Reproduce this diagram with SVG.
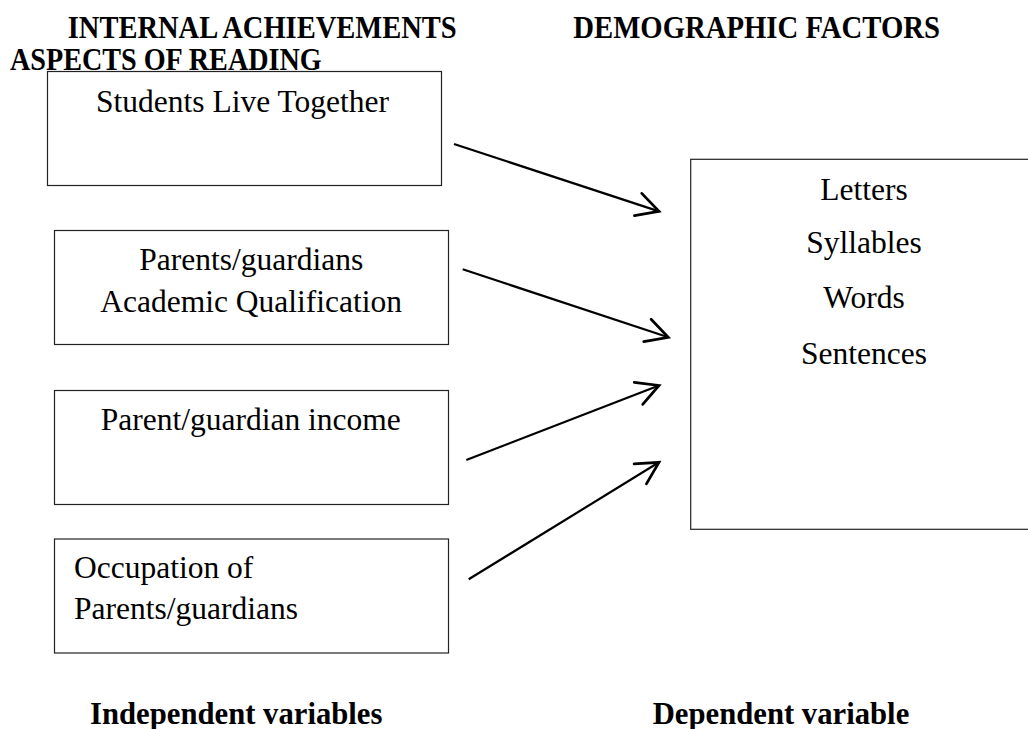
<svg xmlns="http://www.w3.org/2000/svg" width="1028" height="729" viewBox="0 0 1028 729">
<style>
  .box { fill: #ffffff; stroke: #222222; stroke-width: 1.2; }
  .t { font-family: "Liberation Serif", "Times New Roman", serif; font-size: 31.5px; fill: #000000; }
  .c { text-anchor: middle; }
  .h { font-family: "Liberation Serif", "Times New Roman", serif; font-size: 31px; font-weight: bold; fill: #000000; }
  .hb { font-family: "Liberation Serif", "Times New Roman", serif; font-size: 30.7px; font-weight: bold; fill: #000000; }
  .conn { stroke: #000000; stroke-width: 2.2; fill: none; marker-end: url(#arrow); }
</style>
<defs>
  <marker id="arrow" markerUnits="userSpaceOnUse" markerWidth="30" markerHeight="30" refX="0" refY="0" viewBox="-22 -12 24 24" orient="auto" overflow="visible">
    <path d="M -17.6 -9.4 L 0 0 L -17.6 9.4" fill="none" stroke="#000000" stroke-width="2.2" stroke-linecap="round" stroke-linejoin="miter"/>
  </marker>
</defs>

<g id="headings">
  <text class="h" x="67.7" y="37.7" textLength="389" lengthAdjust="spacingAndGlyphs">INTERNAL ACHIEVEMENTS</text>
  <text class="h" x="10" y="69.5" textLength="311.7" lengthAdjust="spacingAndGlyphs">ASPECTS OF READING</text>
  <text class="h" x="573.3" y="37.7" textLength="366.7" lengthAdjust="spacingAndGlyphs">DEMOGRAPHIC FACTORS</text>
</g>

<g id="node-students-live-together">
  <rect class="box" x="47.5" y="71.5" width="394" height="114"/>
  <text class="t c" x="242.5" y="111.7">Students Live Together</text>
</g>

<g id="node-academic-qualification">
  <rect class="box" x="54.5" y="230.5" width="394" height="114"/>
  <text class="t c" x="251.2" y="270">Parents/guardians</text>
  <text class="t c" x="251.2" y="311.7">Academic Qualification</text>
</g>

<g id="node-income">
  <rect class="box" x="54.5" y="390.5" width="394" height="114"/>
  <text class="t c" x="250.8" y="430">Parent/guardian income</text>
</g>

<g id="node-occupation">
  <rect class="box" x="54.5" y="539" width="394" height="114"/>
  <text class="t" x="74" y="577.7">Occupation of</text>
  <text class="t" x="74" y="619">Parents/guardians</text>
</g>

<g id="node-aspects-of-reading">
  <rect class="box" x="690.7" y="159.3" width="400" height="370"/>
  <text class="t c" x="864" y="200">Letters</text>
  <text class="t c" x="864" y="253.3">Syllables</text>
  <text class="t c" x="864" y="308.3">Words</text>
  <text class="t c" x="864" y="364">Sentences</text>
</g>

<g id="connectors">
  <line class="conn" x1="454" y1="144" x2="659" y2="211.4"/>
  <line class="conn" x1="462.7" y1="269.3" x2="668.3" y2="337.3"/>
  <line class="conn" x1="466.3" y1="460" x2="659" y2="385.5"/>
  <line class="conn" x1="468.7" y1="579.3" x2="659" y2="462.3"/>
</g>

<g id="labels">
  <text class="hb" x="90" y="724">Independent variables</text>
  <text class="hb" x="652.7" y="724">Dependent variable</text>
</g>
</svg>
